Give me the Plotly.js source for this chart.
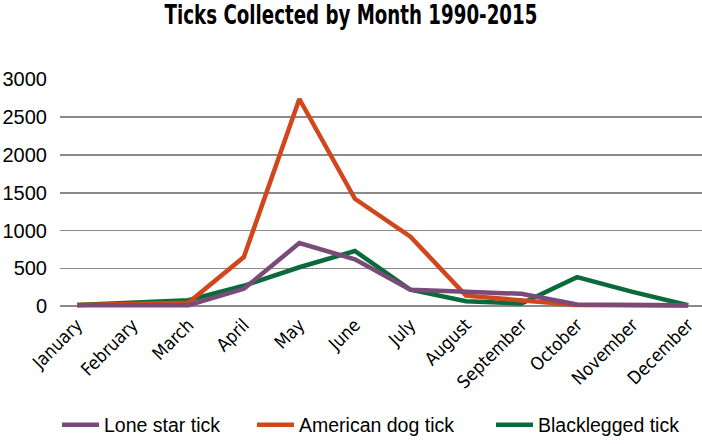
<!DOCTYPE html>
<html>
<head>
<meta charset="utf-8">
<script src="https://cdn.plot.ly/plotly-3.0.1.min.js"></script>
<style>html,body{margin:0;padding:0;background:#fff;}#chart{width:702px;height:444px;}</style>
</head>
<body>
<div id="chart"></div>
<script>
var months = ["January","February","March","April","May","June","July","August","September","October","November","December"];
var loneStar = [12, 12, 14, 230, 835, 620, 218, 190, 164, 22, 15, 12];
var americanDog = [15, 25, 45, 650, 2740, 1420, 920, 140, 75, 15, 12, 10];
var blacklegged = [15, 50, 80, 270, 515, 730, 218, 66, 35, 384, 190, 12];
var yTicks = [0, 500, 1000, 1500, 2000, 2500, 3000];

var traces = [
  {x: months, y: blacklegged, name: "Blacklegged tick", type: "scatter", mode: "lines",
   line: {color: "#0b6a3a", width: 4.5}, legend: "legend3"},
  {x: months, y: americanDog, name: "American dog tick", type: "scatter", mode: "lines",
   line: {color: "#d2461e", width: 4.5}, legend: "legend2"},
  {x: months, y: loneStar, name: "Lone star tick", type: "scatter", mode: "lines",
   line: {color: "#7a4a78", width: 4.5}, legend: "legend"}
];

var legFont = {family: "Liberation Sans, Arial, sans-serif", size: 19.5, color: "#000"};
function leg(px) {
  return {orientation: "h", xref: "container", yref: "container", x: px / 702, xanchor: "left",
          y: 1 - 425 / 444, yanchor: "middle", font: legFont, itemwidth: 37, bgcolor: "rgba(0,0,0,0)"};
}

var layout = {
  width: 702, height: 444,
  margin: {l: 60, r: 0, t: 79, b: 134},
  paper_bgcolor: "#fff", plot_bgcolor: "#fff",
  title: {text: "<b>Ticks Collected by Month 1990-2015</b>", xref: "container", x: 0.5, xanchor: "center",
          yref: "container", y: 1 - 15 / 444, yanchor: "middle",
          font: {family: "DejaVu Sans Condensed, DejaVu Sans, sans-serif", size: 26, color: "#000"}},
  xaxis: {
    type: "category", range: [-0.31, 11.25], showgrid: false, zeroline: false, showline: false,
    tickangle: -45, ticks: "", ticklen: 0,
    tickfont: {family: "DejaVu Sans Condensed, DejaVu Sans, sans-serif", size: 18, color: "#000"}
  },
  yaxis: {
    range: [-50, 3004], tickvals: yTicks, ticktext: yTicks.map(String),
    showgrid: true, gridcolor: "#8a8a8a", gridwidth: 1.5, zeroline: false, showline: false,
    ticks: "", ticklabelstandoff: 12,
    tickfont: {family: "Liberation Sans, Arial, sans-serif", size: 20, color: "#000"}
  },
  showlegend: true,
  legend: leg(57),
  legend2: leg(252),
  legend3: leg(491)
};

Plotly.newPlot("chart", traces, layout, {displayModeBar: false, staticPlot: true}).then(function () {
  var t = document.querySelector(".gtitle");
  if (t) {
    var bb = t.getBBox();
    var s = 373 / bb.width;
    var cx = bb.x + bb.width / 2;
    var old = t.getAttribute("transform") || "";
    t.setAttribute("transform", "translate(" + (cx * (1 - s)) + ",0) scale(" + s + ",1) " + old);
  }
});
</script>
</body>
</html>
